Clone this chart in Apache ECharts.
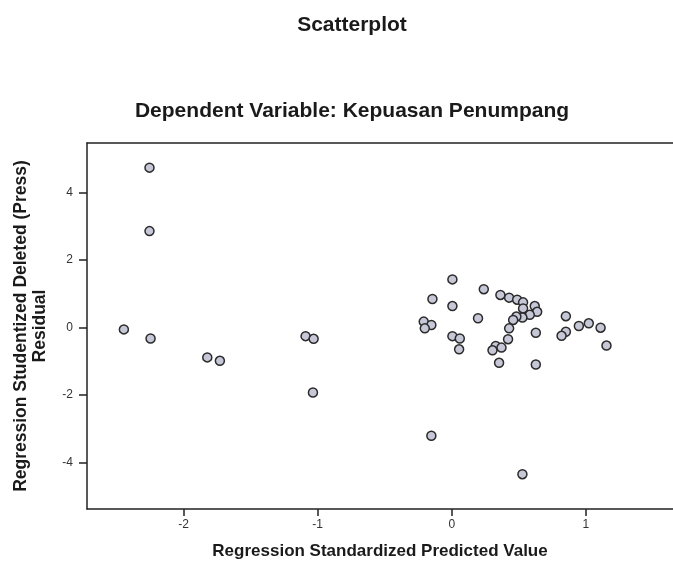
<!DOCTYPE html>
<html lang="en">
<head>
    <meta charset="UTF-8">
    <script src="https://cdn.jsdelivr.net/npm/echarts@6/dist/echarts.min.js"></script>
    <title>Scatterplot</title>
</head>
<body style="margin:0;background:#fff;">
    <div id="main" style="width: 673px;height:561px;"></div>

    <script type="text/javascript">
        // predicted value (x) / studentized deleted residual (y)
        var predicted = [
            -2.254, -2.254, -2.445, -2.246, -1.823, -1.729, -1.090, -1.030, -1.035,
            0.005, -0.144, 0.005, 0.239, 0.363, 0.428, 0.488, 0.532, 0.532, 0.619,
            0.637, 0.582, 0.527, 0.482, 0.458, 0.196, -0.209, -0.152, -0.201, 0.428,
            0.420, 0.627, 0.005, 0.060, 0.055, 0.328, 0.304, 0.371, 0.353, 0.627,
            0.851, 0.851, 0.819, 0.948, 1.022, 1.110, 1.154, -0.152, 0.527
        ];
        var residual = [
            4.73, 2.85, -0.06, -0.33, -0.89, -0.99, -0.26, -0.34, -1.93,
            1.42, 0.84, 0.63, 1.13, 0.96, 0.88, 0.82, 0.74, 0.56, 0.63,
            0.46, 0.37, 0.29, 0.32, 0.22, 0.27, 0.17, 0.07, -0.03, -0.03,
            -0.35, -0.16, -0.26, -0.33, -0.65, -0.55, -0.68, -0.60, -1.05, -1.10,
            0.33, -0.13, -0.25, 0.04, 0.12, -0.01, -0.54, -3.21, -4.35
        ];
        var xTicks = [-2, -1, 0, 1];
        var yTicks = [-4, -2, 0, 2, 4];

        var points = [];
        for (var i = 0; i < predicted.length; i++) {
            points.push([predicted[i], residual[i]]);
        }

        var myChart = echarts.init(document.getElementById('main'));

        var fontFam = 'Liberation Sans, Arial, sans-serif';

        myChart.setOption({
            animation: false,
            title: [{
                text: 'Scatterplot',
                left: 347,
                top: 10,
                textAlign: 'center',
                textStyle: { fontFamily: fontFam, fontSize: 21, fontWeight: 'bold', color: '#1a1a1a' }
            }, {
                text: 'Dependent Variable: Kepuasan Penumpang',
                left: 347,
                top: 96,
                textAlign: 'center',
                textStyle: { fontFamily: fontFam, fontSize: 21, fontWeight: 'bold', color: '#1a1a1a' }
            }],
            grid: {
                left: 87,
                top: 143,
                right: 0,
                bottom: 52,
                outerBoundsMode: 'none'
            },
            xAxis: [{
                type: 'value',
                min: -2.72,
                max: 1.65,
                position: 'bottom',
                name: 'Regression Standardized Predicted Value',
                nameLocation: 'middle',
                nameGap: 34,
                nameTextStyle: { fontFamily: fontFam, fontSize: 17, fontWeight: 'bold', color: '#1a1a1a' },
                splitLine: { show: false },
                axisLine: { onZero: false, lineStyle: { color: '#222', width: 1.5 } },
                axisTick: { customValues: xTicks, length: 7, lineStyle: { color: '#222', width: 1.5 } },
                axisLabel: {
                    customValues: xTicks,
                    margin: 10,
                    fontFamily: fontFam, fontSize: 12, color: '#333'
                }
            }, {
                type: 'value',
                min: -2.72,
                max: 1.65,
                position: 'top',
                splitLine: { show: false },
                axisLine: { onZero: false, lineStyle: { color: '#222', width: 1.5 } },
                axisTick: { show: false },
                axisLabel: { show: false }
            }],
            yAxis: {
                type: 'value',
                min: -5.38,
                max: 5.46,
                name: 'Regression Studentized Deleted (Press)\nResidual',
                nameLocation: 'middle',
                nameRotate: 90,
                nameGap: 37,
                nameTextStyle: { fontFamily: fontFam, fontSize: 17.5, fontWeight: 'bold', color: '#1a1a1a', lineHeight: 19 },
                splitLine: { show: false },
                axisLine: { show: true, onZero: false, lineStyle: { color: '#222', width: 1.5 } },
                axisTick: { show: true, customValues: yTicks, length: 8, lineStyle: { color: '#222', width: 1.5 } },
                axisLabel: {
                    customValues: yTicks,
                    margin: 14,
                    fontFamily: fontFam, fontSize: 12, color: '#333'
                }
            },
            series: [{
                type: 'scatter',
                xAxisIndex: 0,
                symbol: 'circle',
                symbolSize: 9,
                itemStyle: {
                    color: '#c6c8d8',
                    borderColor: '#2b2b2b',
                    borderWidth: 1.5,
                    opacity: 1
                },
                data: points
            }]
        });
    </script>
</body>
</html>
